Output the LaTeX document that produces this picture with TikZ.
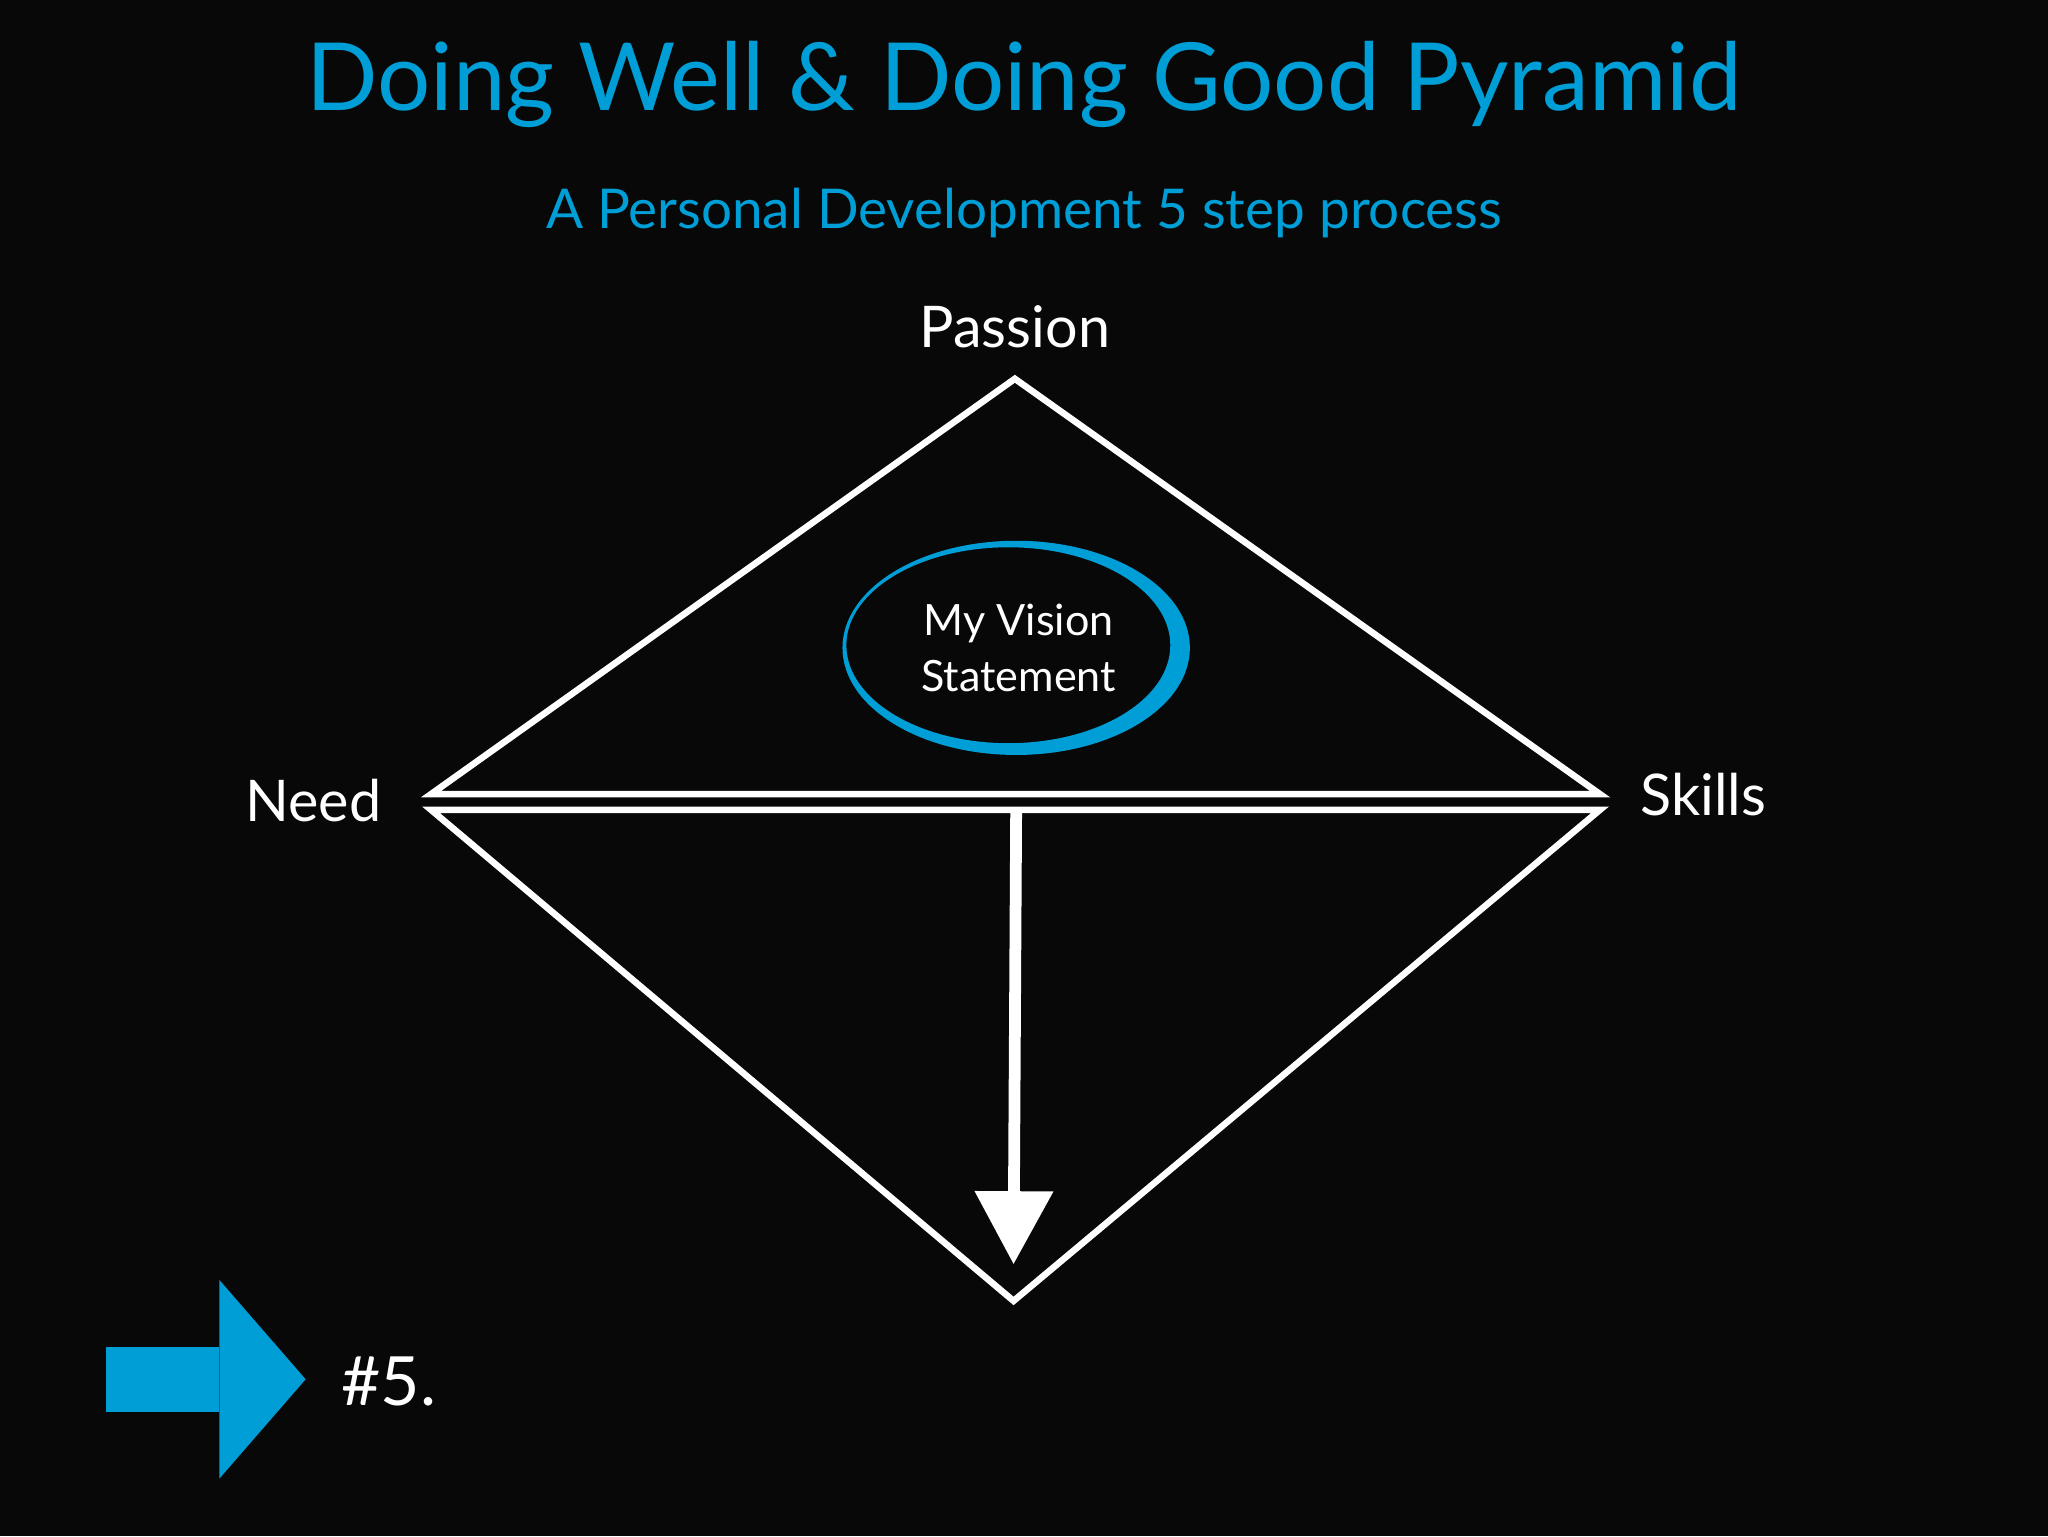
\documentclass[tikz,border=0pt]{standalone}
\usepackage{fontspec}
\setmainfont{Lato}
\usetikzlibrary{arrows.meta}
\definecolor{bluec}{RGB}{0,158,214}
\begin{document}
\begin{tikzpicture}[x=1pt,y=-1pt,
  wl/.style={draw=white,line width=5pt,line join=miter},
  lbl/.style={text=white,font=\fontsize{44}{50}\selectfont}]
\fill[black!97] (0,0) rectangle (1568,1176);
\useasboundingbox (0,0) rectangle (1568,1176);
\node[text=bluec,font=\fontsize{72}{80}\selectfont] (title) at (784,65) {Doing Well \& Doing Good Pyramid};
\node[text=bluec,font=\fontsize{42}{48}\selectfont] (sub) at (784,163) {A Personal Development 5 step process};
\coordinate (P) at (777,290);
\coordinate (L1) at (330,608);
\coordinate (R1) at (1225,608);
\coordinate (L2) at (330,620);
\coordinate (R2) at (1225,620);
\coordinate (B) at (776,996);
\coordinate (S) at (778,620);
\coordinate (E) at (776,968);
\draw[wl] (P) -- (R1) -- (L1) -- cycle;
\draw[wl] (L2) -- (R2) -- (B) -- cycle;
\draw[white,line width=9pt,-{Triangle[width=58pt,length=56pt]}] (S) -- (E);
\node[lbl] (passion) at (777,250) {Passion};
\node[lbl] (need) at (240,613) {Need};
\node[lbl] (skills) at (1304,608) {Skills};
\fill[bluec,even odd rule] (778,496) ellipse [x radius=133, y radius=82] (772,494) ellipse [x radius=124, y radius=75];
\node[text=white,align=center,font=\fontsize{33}{43}\selectfont] (vision) at (780,496) {My Vision\\Statement};
\fill[bluec] (81,1031) rectangle (168,1081);
\fill[bluec] (168,980) -- (234,1056) -- (168,1132) -- cycle;
\node[text=white,anchor=west,font=\fontsize{52}{60}\selectfont] (five) at (258,1058) {\#5.};
\end{tikzpicture}
\end{document}
